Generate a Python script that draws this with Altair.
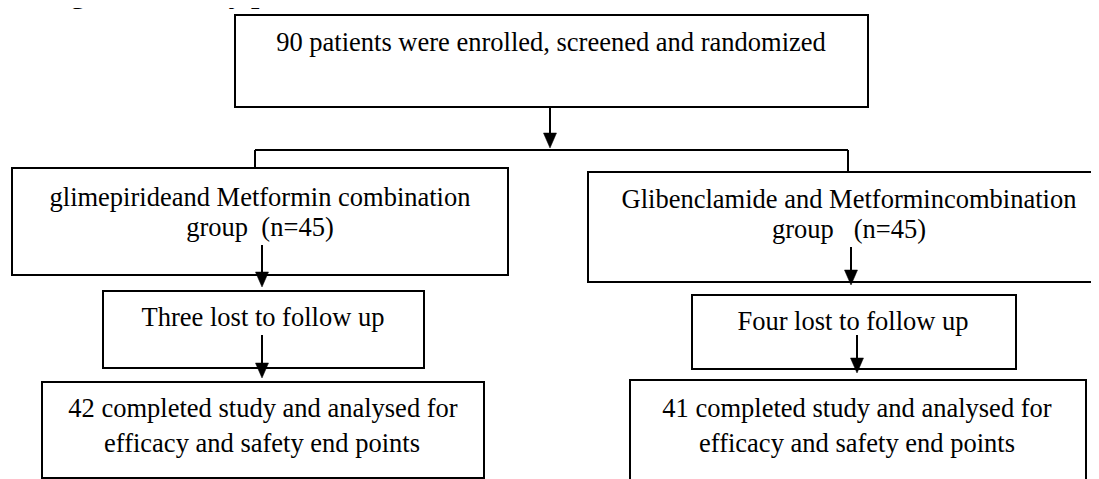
import altair as alt
import pandas as pd

# ---- flowchart content (image pixel coordinates) ----
box_x1 = [235, 12, 588, 103, 692, 42, 630]
box_x2 = [868, 508, 1115, 424, 1016, 484, 1086]
box_y1 = [15, 168, 172, 291, 295, 382, 380]
box_y2 = [107, 275, 282, 368, 369, 478, 500]

line_x1 = [550, 255, 255, 848, 262, 262, 851, 857]
line_x2 = [550, 848, 255, 848, 262, 262, 851, 857]
line_y1 = [107, 150, 150, 150, 245, 335, 247, 335]
line_y2 = [140, 150, 168, 172, 280, 370, 278, 366]

tip_x = [550, 262, 262, 851, 857]
tip_y = [148, 287, 378, 285, 373]

texts = [
    "90 patients were enrolled, screened and randomized",
    "glimepirideand Metformin combination",
    "group\u00a0 (n=45)",
    "Glibenclamide and Metformincombination",
    "group\u00a0\u00a0 (n=45)",
    "Three lost to follow up",
    "Four lost to follow up",
    "42 completed study and analysed for",
    "efficacy and safety end points",
    "41 completed study and analysed for",
    "efficacy and safety end points",
]
text_x = [551, 260, 260, 849, 849, 263, 853, 263, 262, 857, 857]
text_y = [51, 206, 236, 208, 238, 326, 330, 417, 452, 417, 452]

title_text = ["Figure 1: Study profile"]
title_x = [44]
title_y = [3]

W, H = 1083, 471
X0, Y0 = 8, 8

boxes = pd.DataFrame({"x1": box_x1, "x2": box_x2, "y1": box_y1, "y2": box_y2})
lines = pd.DataFrame({"x1": line_x1, "x2": line_x2, "y1": line_y1, "y2": line_y2})
tips = pd.DataFrame({"x": tip_x, "y": tip_y})
labels = pd.DataFrame({"t": texts, "x": text_x, "y": text_y})
title = pd.DataFrame({"t": title_text, "x": title_x, "y": title_y})

xs = alt.Scale(domain=[X0, X0 + W], nice=False, zero=False)
ys = alt.Scale(domain=[Y0, Y0 + H], nice=False, zero=False, reverse=True)

def X(f):
    return alt.X(f, type="quantitative", scale=xs, axis=None)

def Y(f):
    return alt.Y(f, type="quantitative", scale=ys, axis=None)

rects = alt.Chart(boxes).mark_rect(
    fill="white", fillOpacity=0, stroke="black", strokeWidth=2
).encode(x=X("x1"), x2="x2", y=Y("y1"), y2="y2")

rules = alt.Chart(lines).mark_rule(color="black", strokeWidth=2).encode(
    x=X("x1"), x2="x2", y=Y("y1"), y2="y2"
)

# arrowhead path: tip at the anchor point, ~13px wide and ~15px tall at size 225
heads = alt.Chart(tips).mark_point(
    shape="M-0.87,-2L0.87,-2L0,0Z", filled=True, fill="black",
    stroke="black", strokeWidth=0.5, opacity=1, size=225
).encode(x=X("x"), y=Y("y"))

txt = alt.Chart(labels).mark_text(
    font="Liberation Serif", fontSize=26.5, align="center",
    baseline="alphabetic", color="black"
).encode(x=X("x"), y=Y("y"), text="t:N")

ttl = alt.Chart(title).mark_text(
    font="Liberation Serif", fontSize=30, fontWeight="bold", align="left",
    baseline="alphabetic", color="black"
).encode(x=X("x"), y=Y("y"), text="t:N")

chart = alt.layer(rects, rules, heads, txt, ttl).properties(
    width=W, height=H, padding=0, autosize=alt.AutoSizeParams(type="none"),
    background="white"
).configure_view(stroke=None)

chart.save("out.html", embed_options={"renderer": "svg", "actions": False})
